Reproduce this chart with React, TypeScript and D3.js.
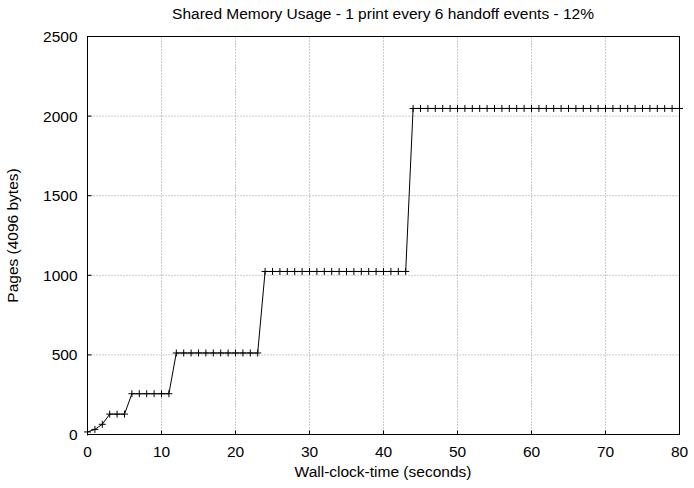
import React from "react";
import * as d3 from "d3";

const title = "Shared Memory Usage - 1 print every 6 handoff events - 12%";
const xLabel = "Wall-clock-time (seconds)";
const yLabel = "Pages (4096 bytes)";
const xTicks = [0, 10, 20, 30, 40, 50, 60, 70, 80];
const yTicks = [0, 500, 1000, 1500, 2000, 2500];

// time (s) of each sample
const times: number[] = Array.from({ length: 81 }, (_, i) => i);
// pages used at each sample
const pages: number[] = [
  16, 32, 64,
  128, 128, 128,
  256, 256, 256, 256, 256, 256,
  512, 512, 512, 512, 512, 512, 512, 512, 512, 512, 512, 512,
  1024, 1024, 1024, 1024, 1024, 1024, 1024, 1024, 1024, 1024,
  1024, 1024, 1024, 1024, 1024, 1024, 1024, 1024, 1024, 1024,
  2048, 2048, 2048, 2048, 2048, 2048, 2048, 2048, 2048, 2048,
  2048, 2048, 2048, 2048, 2048, 2048, 2048, 2048, 2048, 2048,
  2048, 2048, 2048, 2048, 2048, 2048, 2048, 2048, 2048, 2048,
  2048, 2048, 2048, 2048, 2048, 2048, 2048,
];

const W = 694;
const H = 488;
const L = 87.5, R = 679.5, T = 36.5, B = 434.5;
const font = "'Liberation Sans', Arial, sans-serif";
const fs = 15.5;

export default function App() {
  const x = d3.scaleLinear().domain([0, 80]).range([L, R]);
  const y = d3.scaleLinear().domain([0, 2500]).range([B, T]);
  const pts = times.map((t, i) => [t, pages[i]] as [number, number]);
  const line = d3.line<[number, number]>().x(d => x(d[0])).y(d => y(d[1]));
  const m = 3.5;
  return (
    <svg width={W} height={H} style={{ position: "absolute", left: 0, top: 0, background: "#fff" }}>
      <rect x={0} y={0} width={W} height={H} fill="#fff" />
      {/* grid */}
      {xTicks.slice(1, -1).map(t => (
        <line key={"gx" + t} x1={x(t)} x2={x(t)} y1={B} y2={T} stroke="#999" strokeWidth={1} strokeDasharray="1,2" />
      ))}
      {yTicks.slice(1, -1).map(t => (
        <line key={"gy" + t} x1={L} x2={R} y1={y(t)} y2={y(t)} stroke="#999" strokeWidth={1} strokeDasharray="1,2" />
      ))}
      {/* ticks */}
      {xTicks.map(t => (
        <g key={"tx" + t}>
          <line x1={x(t)} x2={x(t)} y1={B} y2={B - 4} stroke="#000" />
          <text x={x(t)} y={457} textAnchor="middle" fontFamily={font} fontSize={fs} fill="#000">{t}</text>
        </g>
      ))}
      {yTicks.map(t => (
        <g key={"ty" + t}>
          <line x1={L} x2={L + 4} y1={y(t)} y2={y(t)} stroke="#000" />
          <text x={L - 10} y={y(t) + 5.5} textAnchor="end" fontFamily={font} fontSize={fs} fill="#000">{t}</text>
        </g>
      ))}
      {/* frame */}
      <rect x={L} y={T} width={R - L} height={B - T} fill="none" stroke="#000" strokeWidth={1} />
      {/* data */}
      <path d={line(pts) || ""} fill="none" stroke="#000" strokeWidth={1} />
      {pts.map((d, i) => (
        <path key={"p" + i}
          d={`M${x(d[0]) - m},${y(d[1])}H${x(d[0]) + m}M${x(d[0])},${y(d[1]) - m}V${y(d[1]) + m}`}
          stroke="#000" strokeWidth={1} fill="none" />
      ))}
      {/* labels */}
      <text x={383} y={18.5} textAnchor="middle" fontFamily={font} fontSize={fs} fill="#000">{title}</text>
      <text x={383} y={477} textAnchor="middle" fontFamily={font} fontSize={fs} fill="#000">{xLabel}</text>
      <text transform={`translate(18,${(T + B) / 2}) rotate(-90)`} textAnchor="middle" fontFamily={font} fontSize={fs} fill="#000">{yLabel}</text>
    </svg>
  );
}
